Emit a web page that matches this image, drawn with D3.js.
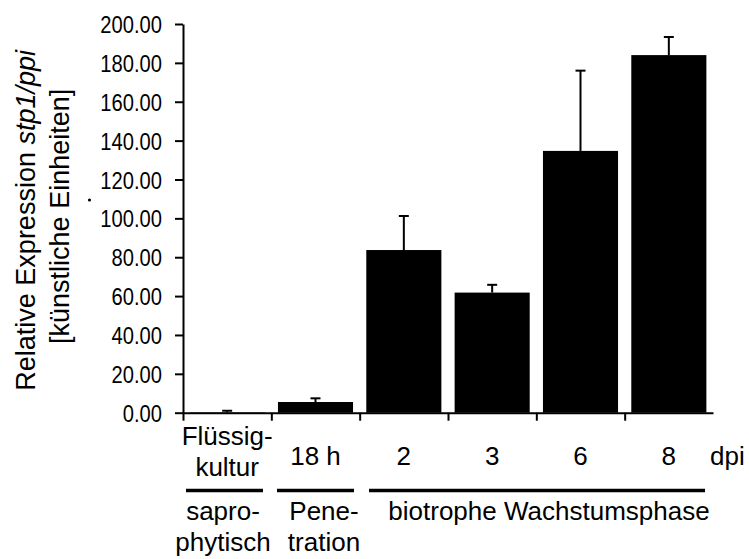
<!DOCTYPE html>
<html>
<head>
<meta charset="utf-8">
<script src="https://cdn.jsdelivr.net/npm/d3@7"></script>
<style>
  body { margin: 0; background: #fff; }
  svg { display: block; font-family: "Liberation Sans", Arial, sans-serif; }
  .axis path, .axis line { stroke: #000; stroke-width: 2; }
</style>
</head>
<body>
<svg id="chart" width="749" height="559"></svg>
<script>
// stp1/ppi relative expression, bar chart with upward error bars

const categories = ['Flüssigkultur', '18 h', '2', '3', '6', '8'];
const catLabels = [['Flüssig-', 'kultur'], ['18 h'], ['2'], ['3'], ['6'], ['8']];
const values = [0.2, 5.5, 83.7, 61.8, 134.7, 184.0];
const errors = [0.8, 1.9, 17.5, 4.0, 41.3, 9.3];
const yTicks = [0, 20, 40, 60, 80, 100, 120, 140, 160, 180, 200];

// phase groups under the axis
const phaseLabels = [['sapro-', 'phytisch'], ['Pene-', 'tration'], ['biotrophe Wachstumsphase']];

const X0 = 183, X1 = 713, Y0 = 412.7, Y1 = 24;

const svg = d3.select('#chart');

const x = d3.scaleBand()
    .domain(categories)
    .range([X0, X1])
    .paddingInner(0.15)
    .paddingOuter(0.075);

const y = d3.scaleLinear()
    .domain([0, 200])
    .range([Y0, Y1]);

// category boundaries for the x ticks
const xEdge = d3.scaleLinear()
    .domain([0, categories.length])
    .range([X0, X1]);

// bars
svg.append('g')
    .selectAll('rect')
    .data(values)
    .join('rect')
    .attr('x', (d, i) => x(categories[i]))
    .attr('y', d => y(d))
    .attr('width', x.bandwidth())
    .attr('height', d => Y0 - y(d))
    .attr('fill', '#000');

// error bars (upper only)
const err = svg.append('g')
    .attr('stroke', '#000')
    .attr('stroke-width', 2);

values.forEach((v, i) => {
    const cx = x(categories[i]) + x.bandwidth() / 2;
    err.append('line')
        .attr('x1', cx).attr('x2', cx)
        .attr('y1', y(v)).attr('y2', y(v + errors[i]));
    err.append('line')
        .attr('x1', cx - 5).attr('x2', cx + 5)
        .attr('y1', y(v + errors[i])).attr('y2', y(v + errors[i]));
});

// y axis
const yAxis = svg.append('g')
    .attr('class', 'axis')
    .attr('transform', `translate(${X0},0)`)
    .call(d3.axisLeft(y)
        .tickValues(yTicks)
        .tickFormat(d3.format('.2f'))
        .tickSize(8)
        .tickSizeOuter(0));

// tick labels in the original are a bit condensed
yAxis.selectAll('text')
    .attr('x', -25)
    .attr('dy', '0.36em')
    .attr('transform', 'scale(0.84,1)')
    .attr('font-size', 24)
    .attr('font-family', '"Liberation Sans", Arial, sans-serif')
    .attr('fill', '#000');

// x axis
svg.append('g')
    .attr('class', 'axis')
    .attr('transform', `translate(0,${Y0})`)
    .call(d3.axisBottom(xEdge)
        .tickValues(d3.range(categories.length))
        .tickFormat('')
        .tickSize(8)
        .tickSizeOuter(0));

// category labels
const catG = svg.append('g')
    .attr('font-size', 26)
    .attr('text-anchor', 'middle')
    .attr('fill', '#000');

catLabels.forEach((lines, i) => {
    const cx = x(categories[i]) + x.bandwidth() / 2;
    const base = lines.length === 1 ? 465 : 444.5;
    lines.forEach((t, j) => {
        catG.append('text')
            .attr('x', cx)
            .attr('y', base + j * 31)
            .text(t);
    });
});

catG.append('text')
    .attr('x', 710)
    .attr('y', 465)
    .attr('text-anchor', 'start')
    .text('dpi');

// phase separators and names
const phG = svg.append('g');
const phLeft = [186, 277, 369];
const phRight = [263, 354, 705];
const phCenter = [223, 324, 549];

phaseLabels.forEach((lines, k) => {
    phG.append('line')
        .attr('x1', phLeft[k]).attr('x2', phRight[k])
        .attr('y1', 490.5).attr('y2', 490.5)
        .attr('stroke', '#000')
        .attr('stroke-width', 3.5);
    lines.forEach((t, j) => {
        phG.append('text')
            .attr('x', phCenter[k])
            .attr('y', 519.5 + j * 31.5)
            .attr('text-anchor', 'middle')
            .attr('font-size', 26)
            .text(t);
    });
});

// y axis title
const title = svg.append('text')
    .attr('transform', `translate(35,${(Y0 + Y1) / 2 + 2}) rotate(-90)`)
    .attr('text-anchor', 'middle')
    .attr('font-size', 27);

title.append('tspan').text('Relative Expression ');
title.append('tspan').attr('font-style', 'italic').text('stp1/ppi');

svg.append('text')
    .attr('transform', `translate(69,${(Y0 + Y1) / 2 - 2}) rotate(-90)`)
    .attr('text-anchor', 'middle')
    .attr('font-size', 27)
    .text('[künstliche Einheiten]');

// stray dot from the original figure
svg.append('circle')
    .attr('cx', 89.5)
    .attr('cy', 200)
    .attr('r', 1.6)
    .attr('fill', '#000');
</script>
</body>
</html>
